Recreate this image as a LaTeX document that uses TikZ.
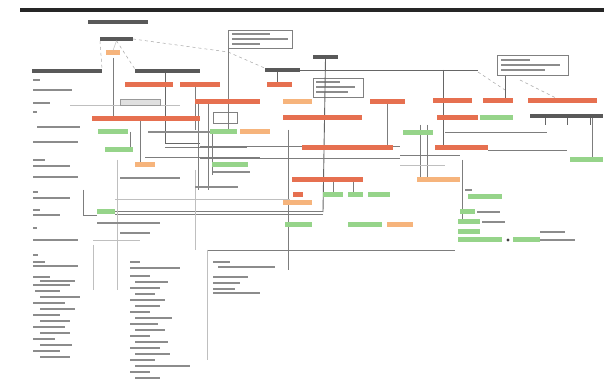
\documentclass[tikz,border=0pt]{standalone}
\usetikzlibrary{calc}
\definecolor{redc}{RGB}{230,112,80}
\definecolor{orc}{RGB}{246,180,124}
\definecolor{grc}{RGB}{150,212,138}
\definecolor{lnc}{RGB}{125,125,125}
\newcommand\bx[5]{%
  \pgfmathsetmacro\bxw{#4-#3}\pgfmathsetmacro\bxc{(#3+#4)/2}%
  \node[#1, minimum width=\bxw pt] (#2) at (\bxc,#5) {};}
\begin{document}
\begin{tikzpicture}[x=1pt,y=-1pt,
  base/.style={inner sep=0pt, outer sep=0pt, draw=none},
  rb/.style={base, fill=redc, minimum height=5pt},
  ob/.style={base, fill=orc, minimum height=5pt},
  gb/.style={base, fill=grc, minimum height=5pt},
  tx/.style={base, fill=black!45, minimum height=2.8pt},
  tb/.style={base, fill=black!65, minimum height=3.6pt},
  gbox/.style={base, fill=black!12, draw=black!40, minimum height=6pt},
  ln/.style={draw=lnc, line width=0.6pt},
  lt/.style={draw=black!25, line width=0.5pt},
  dk/.style={draw=black!60, line width=0.9pt},
  ds/.style={draw=black!35, dashed, line width=0.5pt},
  frame/.style={draw=black!50, line width=0.6pt}]
\useasboundingbox (0,0) rectangle (606,382);
\fill[white] (0,0) rectangle (606,382);
\fill[black!85] (20,8) rectangle (604,12.5);

% top
\bx{tb}{title}{88}{148}{22}
\bx{tb}{root}{100}{133}{39}
\bx{ob}{o1}{106}{120}{53}
\bx{tb}{l1a}{32}{102}{71}
\bx{tb}{l1b}{135}{200}{71}
\bx{tb}{l1c}{265}{300}{70}
\bx{tb}{n57}{313}{338}{57}
\draw[ds] (root.south west) -- (l1a.north east);
\draw[ds] (root.south) -- (l1b.north west);
\draw[ds] (root.east) -- (228,52) -- (l1c.north west);
\draw[ds] (478,72) -- (505,90);
\draw[ds] (520,80) -- (560,100);
\draw[lt] (root.south) -- (o1.north);

% boxes
\draw[frame] (228,30) rectangle (292,48);
\bx{tx}{bt1}{232}{270}{34}\bx{tx}{bt2}{232}{288}{39}\bx{tx}{bt3}{232}{260}{44}
\draw[frame] (497,55) rectangle (568,75);
\bx{tx}{br1}{501}{530}{60}\bx{tx}{br2}{501}{560}{65}\bx{tx}{br3}{501}{545}{70}
\draw[frame] (313,78) rectangle (363,97);
\bx{tx}{bm1}{316}{340}{82}\bx{tx}{bm2}{316}{355}{87}\bx{tx}{bm3}{316}{348}{92}
\draw[frame] (213,112) rectangle (237,123);

% main lines
\draw[dk] (l1c.east) -- (478,70);
\draw[ln] (113,58) -- (113,119);
\draw[dk] (165,73) -- (165,143) -- (200,143);
\draw[ln] (195,85) -- (195,130);
\draw[ln] (228,48) -- (228,130);
\draw[dk] (277,72) -- (277,85);
\draw[dk] (n57.south) -- (323,212);
\draw[ln] (288,130) -- (288,270);
\draw[ln] (212,130) -- (212,175);
\draw[dk] (443,70) -- (443,150);
\draw[dk] (505,76) -- (505,101);
\draw[ln] (387,102) -- (387,148);
\draw[ln] (592,117) -- (592,160);
\draw[ln] (462,160) -- (462,220);
\draw[ln] (420,125) -- (420,180);
\draw[ln] (427,125) -- (427,180);
\draw[ln] (140,119) -- (140,165);
\draw[ln] (130,132) -- (130,150);
\draw[ln] (198,100) -- (198,190);
\draw[ln] (208,100) -- (208,190);
\draw[lt] (70,105) -- (180,105);
\draw[ln] (200,146) -- (400,146);
\draw[ln] (145,157) -- (260,157);
\draw[ln] (200,158) -- (400,158);
\draw[ln] (400,155) -- (460,155);
\draw[lt] (400,165) -- (445,165);
\draw[ln] (488,150) -- (567,150);
\draw[ln] (445,132) -- (547,132);
\draw[ln] (165,147) -- (247,147);
\draw[ln] (115,211) -- (323,211);
\draw[ln] (115,214) -- (323,214);
\draw[ln] (83,190) -- (83,215) -- (97,215);
\draw[lt] (117,160) -- (117,290);
\draw[lt] (93,245) -- (93,290);
\draw[lt] (195,170) -- (195,250);
\draw[lt] (115,199) -- (290,199);
\draw[lt] (93,240) -- (140,240);
\draw[ln] (207,250) -- (455,250);
\draw[lt] (207,250) -- (207,360);
\draw[ln] (333,180) -- (333,193);
\draw[ln] (353,180) -- (353,193);
\draw[dk] (545,116) -- (545,125);
\draw[dk] (567,116) -- (567,125);
\draw[dk] (590,116) -- (590,125);

% coloured bars
\bx{rb}{r1}{125}{173}{85}\bx{rb}{r2}{180}{220}{85}\bx{rb}{r3}{267}{292}{85}
\bx{gbox}{gx}{120}{160}{102}
\bx{rb}{r4}{195}{260}{102}\bx{ob}{o2}{283}{312}{102}\bx{rb}{r5}{370}{405}{102}
\bx{rb}{r6}{433}{472}{101}\bx{rb}{r7}{483}{513}{101}\bx{rb}{r8}{528}{597}{101}
\bx{rb}{r9}{92}{200}{119}\bx{rb}{r10}{283}{362}{118}\bx{rb}{r11}{437}{478}{118}
\bx{gb}{g1}{480}{513}{118}\bx{tb}{t116}{530}{603}{116}
\bx{gb}{g2}{98}{128}{132}\bx{tx}{t132}{148}{210}{132}\bx{gb}{g3}{210}{237}{132}
\bx{ob}{o3}{240}{270}{132}\bx{gb}{g4}{403}{433}{133}
\bx{rb}{r12}{302}{393}{148}\bx{rb}{r13}{435}{488}{148}\bx{gb}{g5}{105}{133}{150}
\bx{gb}{g6}{570}{603}{160}
\bx{ob}{o4}{135}{155}{165}\bx{gb}{g7}{212}{248}{165}
\bx{tx}{t178}{120}{180}{178}\bx{tx}{t172}{213}{250}{172}\bx{tx}{t187}{195}{238}{187}
\bx{ob}{o5}{417}{460}{180}\bx{rb}{r14}{292}{363}{180}
\bx{gb}{g8}{323}{343}{195}\bx{gb}{g9}{348}{363}{195}\bx{gb}{g10}{368}{390}{195}
\bx{rb}{r15}{293}{303}{195}\bx{ob}{o6}{283}{312}{203}
\bx{gb}{g11}{468}{502}{197}\bx{tx}{t190}{465}{472}{190}
\bx{gb}{g12}{97}{115}{212}\bx{tx}{t223}{97}{160}{223}
\bx{gb}{g13}{285}{312}{225}\bx{gb}{g14}{348}{382}{225}\bx{ob}{o7}{387}{413}{225}
\bx{gb}{g15}{460}{475}{212}\bx{tx}{t212}{477}{500}{212}
\bx{gb}{g16}{458}{480}{222}\bx{tx}{t222}{482}{505}{222}
\bx{gb}{g17}{458}{480}{232}\bx{tx}{t232}{540}{565}{232}
\bx{gb}{g18}{458}{502}{240}\bx{gb}{g19}{513}{540}{240}\bx{tx}{t240}{540}{575}{240}
\fill[black!75] (508,240) circle (1.6);
\bx{tx}{t233}{120}{150}{233}

% left column
\foreach \a/\b/\y in {33/40/80,33/72/90,33/50/103,33/37/112,37/80/127,33/78/142,33/45/160,33/70/166,33/78/177,33/38/192,33/70/198,33/40/210,33/60/215,33/37/228,33/78/240,33/38/255}
  {\bx{tx}{lc\y}{\a}{\b}{\y}}
% bottom lists
\foreach \a/\b/\y in {33/45/262,33/78/266,33/50/277,40/75/281,33/70/285,35/60/291,40/80/297,33/65/303,40/75/309,33/60/315,40/70/321,33/65/327,40/70/333,33/55/339,40/72/345,33/60/351,40/70/357}
  {\bx{tx}{la\y}{\a}{\b}{\y}}
\foreach \a/\b/\y in {130/140/262,130/180/268,130/150/276,135/168/282,130/160/288,135/155/294,130/165/300,135/160/306,130/150/312,135/172/318,130/158/324,135/165/330,130/150/336,135/168/342,130/160/348,135/170/354,130/155/360,135/190/366,130/150/372,135/160/378}
  {\bx{tx}{lb\y}{\a}{\b}{\y}}
\foreach \a/\b/\y in {213/230/262,218/275/267,213/248/277,213/240/283,213/235/289,213/260/293}
  {\bx{tx}{ld\y}{\a}{\b}{\y}}
\end{tikzpicture}
\end{document}
